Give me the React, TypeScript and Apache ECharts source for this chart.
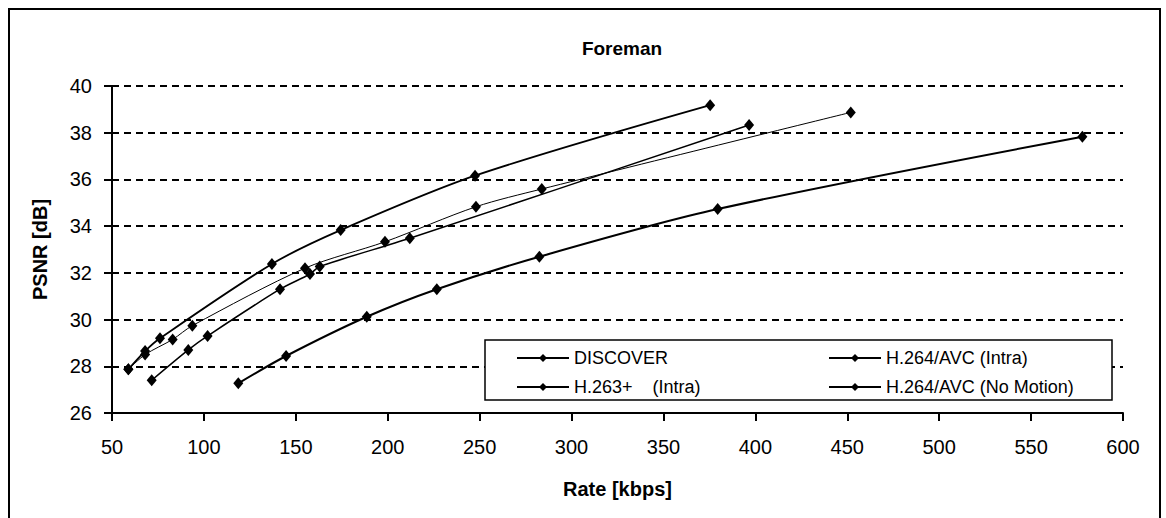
import React, { useEffect, useRef } from "react";
import * as echarts from "echarts";

const TITLE = "Foreman";
const X_NAME = "Rate [kbps]";
const Y_NAME = "PSNR [dB]";

const SERIES_NAMES = [
  "DISCOVER",
  "H.263+    (Intra)",
  "H.264/AVC (Intra)",
  "H.264/AVC (No Motion)",
];

const discoverRate = [58.9, 68, 83, 93.7, 155, 198.5, 248, 283.8, 451.9];
const discoverPsnr = [27.87, 28.5, 29.15, 29.74, 32.2, 33.33, 34.83, 35.59, 38.87];

const h263Rate = [118.7, 144.7, 188.6, 226.7, 282.5, 379.5, 577.9];
const h263Psnr = [27.27, 28.44, 30.12, 31.3, 32.69, 34.73, 37.83];

const h264IntraRate = [71.6, 91.5, 102, 141.4, 157.7, 163, 212, 396.6];
const h264IntraPsnr = [27.4, 28.7, 29.3, 31.3, 31.95, 32.27, 33.48, 38.33];

const h264NoMotionRate = [58.9, 68, 76.1, 137, 174.4, 247.5, 375.4];
const h264NoMotionPsnr = [27.87, 28.65, 29.2, 32.38, 33.83, 36.16, 39.18];

const zip = (xs: number[], ys: number[]) => xs.map((x, i) => [x, ys[i]]);

const FONT = "Arial, 'Liberation Sans', sans-serif";

export default function App() {
  const ref = useRef<HTMLDivElement>(null);
  useEffect(() => {
    document.body.style.margin = "0";
    const chart = echarts.init(ref.current!, null, { renderer: "svg" });
    const mk = (name: string, data: number[][], width: number) => ({
      name,
      type: "line",
      data,
      smooth: 0.3,
      symbol: "diamond",
      symbolSize: [10, 12],
      lineStyle: { color: "#000", width },
      itemStyle: { color: "#000" },
      z: 2,
    });
    chart.setOption({
      animation: false,
      backgroundColor: "#fff",
      title: {
        text: TITLE,
        left: 617,
        textAlign: "center",
        top: 34,
        textStyle: { fontFamily: FONT, fontSize: 19, fontWeight: "bold", color: "#000" },
      },
      grid: { left: 112, right: 43, top: 86, bottom: 105 },
      xAxis: {
        type: "value",
        min: 50,
        max: 600,
        interval: 50,
        name: X_NAME,
        nameLocation: "middle",
        nameGap: 66,
        nameTextStyle: { fontFamily: FONT, fontSize: 20, fontWeight: "bold", color: "#000" },
        axisLine: { show: true, lineStyle: { color: "#000", width: 2 } },
        axisTick: { show: true, length: 8, lineStyle: { color: "#000", width: 2 } },
        axisLabel: { fontFamily: FONT, fontSize: 20, color: "#000", margin: 24 },
        splitLine: { show: false },
      },
      yAxis: {
        type: "value",
        min: 26,
        max: 40,
        interval: 2,
        name: Y_NAME,
        nameLocation: "middle",
        nameRotate: 90,
        nameGap: 62,
        nameTextStyle: { fontFamily: FONT, fontSize: 20, fontWeight: "bold", color: "#000" },
        axisLine: { show: true, lineStyle: { color: "#000", width: 2 } },
        axisTick: { show: true, length: 8, lineStyle: { color: "#000", width: 2 } },
        axisLabel: { fontFamily: FONT, fontSize: 20, color: "#000", margin: 20 },
        splitLine: { show: true, lineStyle: { color: "#000", width: 2, type: [7, 5] } },
      },
      legend: [
        {
          data: [SERIES_NAMES[0], SERIES_NAMES[1]],
          orient: "vertical",
          left: 511,
          top: 343,
          itemWidth: 52,
          itemHeight: 10,
          itemGap: 9,
          textStyle: { fontFamily: FONT, fontSize: 18, color: "#000", lineHeight: 20 },
        },
        {
          data: [SERIES_NAMES[2], SERIES_NAMES[3]],
          orient: "vertical",
          left: 823,
          top: 343,
          itemWidth: 52,
          itemHeight: 10,
          itemGap: 9,
          textStyle: { fontFamily: FONT, fontSize: 18, color: "#000", lineHeight: 20 },
        },
      ],
      graphic: [
        {
          type: "rect",
          shape: { x: 9, y: 9, width: 1151, height: 530 },
          style: { fill: "none", stroke: "#000", lineWidth: 2 },
          z: 1,
        },
        {
          type: "rect",
          shape: { x: 485, y: 340, width: 627, height: 60 },
          style: { fill: "#fff", stroke: "#000", lineWidth: 1.5 },
          z: 3,
        },
      ],
      series: [
        mk(SERIES_NAMES[0], zip(discoverRate, discoverPsnr), 1),
        mk(SERIES_NAMES[1], zip(h263Rate, h263Psnr), 2),
        mk(SERIES_NAMES[2], zip(h264IntraRate, h264IntraPsnr), 1.5),
        mk(SERIES_NAMES[3], zip(h264NoMotionRate, h264NoMotionPsnr), 1.8),
      ],
    });
    return () => chart.dispose();
  }, []);
  return <div ref={ref} style={{ width: 1166, height: 518, position: "absolute", left: 0, top: 0 }} />;
}
